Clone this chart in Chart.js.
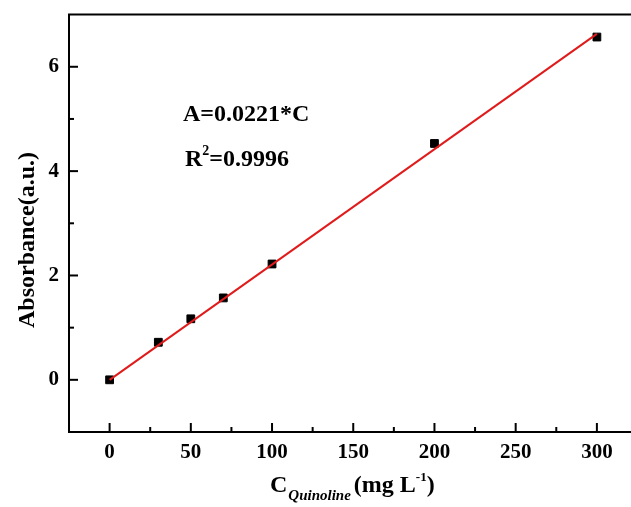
<!DOCTYPE html>
<html>
<head>
<meta charset="utf-8">
<script src="https://cdn.jsdelivr.net/npm/chart.js@4/dist/chart.umd.min.js"></script>
<style>
  html, body { margin: 0; padding: 0; background: #fff; }
  #wrap { width: 631px; height: 507px; }
</style>
</head>
<body>
<div id="wrap"><canvas id="chart"></canvas></div>
<script>
// Measured points
const concentration = [0, 30, 50, 70, 100, 200, 300];
const absorbance = [0, 0.72, 1.17, 1.57, 2.22, 4.53, 6.57];

// Fitted line endpoints (A = 0.0221*C)
const fitX = [0, 300];
const fitY = [0, 6.63];

// Axis ranges and tick positions
const xMin = -25, xMax = 321;
const xTicks = [0, 25, 50, 75, 100, 125, 150, 175, 200, 225, 250, 275, 300];
const yMin = -1, yMax = 7;
const yTicks = [0, 1, 2, 3, 4, 5, 6];

const serif = "'Liberation Serif', 'Times New Roman', serif";

const points = concentration.map((c, i) => ({ x: c, y: absorbance[i] }));
const fitLine = fitX.map((c, i) => ({ x: c, y: fitY[i] }));

// Draws inward tick marks, top frame, annotation and axis titles
const decorPlugin = {
  id: "decor",
  afterDraw(chart) {
    const ctx = chart.ctx;
    const area = chart.chartArea;
    const xs = chart.scales.x, ys = chart.scales.y;
    ctx.save();
    ctx.strokeStyle = "#000";
    ctx.lineWidth = 2;

    // top frame
    ctx.beginPath();
    ctx.moveTo(area.left - 1, area.top);
    ctx.lineTo(area.right + 1, area.top);
    ctx.stroke();

    // x ticks (inside)
    xs.ticks.forEach(t => {
      const px = xs.getPixelForValue(t.value);
      const len = t.value % 50 === 0 ? 9 : 5;
      ctx.beginPath();
      ctx.moveTo(px, area.bottom);
      ctx.lineTo(px, area.bottom - len);
      ctx.stroke();
    });
    // y ticks (inside)
    ys.ticks.forEach(t => {
      const py = ys.getPixelForValue(t.value);
      const len = t.value % 2 === 0 ? 9 : 5;
      ctx.beginPath();
      ctx.moveTo(area.left, py);
      ctx.lineTo(area.left + len, py);
      ctx.stroke();
    });

    ctx.fillStyle = "#000";
    ctx.textBaseline = "alphabetic";
    ctx.textAlign = "left";

    // equation annotation
    ctx.font = "bold 24px " + serif;
    ctx.fillText("A=0.0221*C", 183, 121);
    ctx.fillText("R", 185, 166);
    let w = ctx.measureText("R").width;
    ctx.font = "bold 14px " + serif;
    ctx.fillText("2", 185 + w, 155);
    const w2 = ctx.measureText("2").width;
    ctx.font = "bold 24px " + serif;
    ctx.fillText("=0.9996", 185 + w + w2, 166);

    // y title
    ctx.save();
    ctx.translate(34, 240);
    ctx.rotate(-Math.PI / 2);
    ctx.textAlign = "center";
    ctx.font = "bold 24px " + serif;
    ctx.fillText("Absorbance(a.u.)", 0, 0);
    ctx.restore();

    // x title: C_Quinoline (mg L^-1)
    let x = 270;
    const base = 492;
    ctx.font = "bold 24px " + serif;
    ctx.fillText("C", x, base);
    x += ctx.measureText("C").width + 1;
    ctx.font = "italic bold 15px " + serif;
    ctx.fillText("Quinoline", x, base + 8);
    x += ctx.measureText("Quinoline").width + 3;
    ctx.font = "bold 24px " + serif;
    ctx.fillText("(mg L", x, base);
    x += ctx.measureText("(mg L").width;
    ctx.font = "bold 13px " + serif;
    ctx.fillText("-1", x, base - 11);
    x += ctx.measureText("-1").width;
    ctx.font = "bold 24px " + serif;
    ctx.fillText(")", x, base);

    ctx.restore();
  }
};

new Chart(document.getElementById("chart"), {
  type: "scatter",
  data: {
    datasets: [
      {
        label: "Fit",
        data: fitLine,
        showLine: true,
        borderColor: "#e01b1b",
        borderWidth: 2,
        pointRadius: 0,
        order: 1
      },
      {
        label: "Data",
        data: points,
        pointStyle: "rect",
        pointRadius: 5.5,
        backgroundColor: "#000",
        borderColor: "#000",
        borderWidth: 1,
        order: 2
      }
    ]
  },
  options: {
    responsive: true,
    maintainAspectRatio: false,
    animation: false,
    layout: { autoPadding: false, padding: { top: 14, right: 0, left: 0, bottom: 0 } },
    plugins: { legend: { display: false }, tooltip: { enabled: false } },
    scales: {
      x: {
        type: "linear",
        min: xMin,
        max: xMax,
        grid: { display: false },
        border: { display: true, color: "#000", width: 2 },
        afterBuildTicks: s => { s.ticks = xTicks.map(v => ({ value: v })); },
        ticks: {
          autoSkip: false,
          maxRotation: 0,
          padding: 0,
          color: "#000",
          font: { family: serif, size: 21, weight: "bold" },
          callback: v => (v % 50 === 0 ? v : "")
        },
        afterFit: s => { s.height = 75; }
      },
      y: {
        type: "linear",
        min: yMin,
        max: yMax,
        grid: { display: false },
        border: { display: true, color: "#000", width: 2 },
        afterBuildTicks: s => { s.ticks = yTicks.map(v => ({ value: v })); },
        ticks: {
          autoSkip: false,
          padding: 2,
          color: "#000",
          font: { family: serif, size: 21, weight: "bold" },
          callback: v => (v % 2 === 0 ? v : "")
        },
        afterFit: s => { s.width = 69; }
      }
    }
  },
  plugins: [decorPlugin]
});
</script>
</body>
</html>
